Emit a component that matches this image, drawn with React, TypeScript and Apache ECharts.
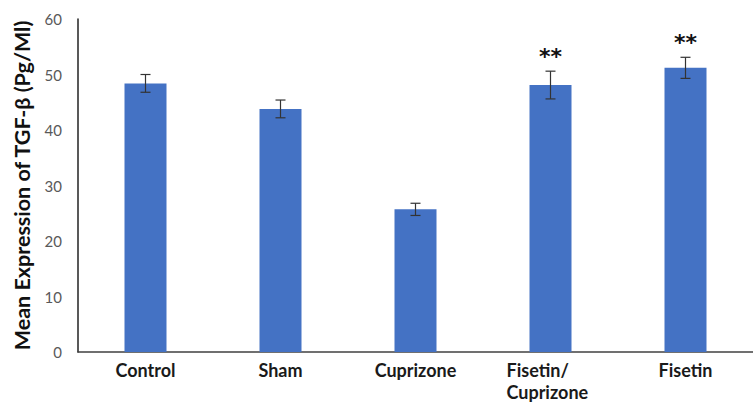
import React, { useEffect, useRef } from "react";
import * as echarts from "echarts";

const categories = ["Control", "Sham", "Cuprizone", "Fisetin/\nCuprizone", "Fisetin"];
const means = [48.4, 43.8, 25.7, 48.1, 51.2];
const errors = [1.6, 1.6, 1.1, 2.5, 1.9];
const significance = ["", "", "", "**", "**"];
const yTicks = { min: 0, max: 60, interval: 10 };

export default function App() {
  const ref = useRef<HTMLDivElement>(null);
  useEffect(() => {
    if (!ref.current) return;
    const chart = echarts.init(ref.current, undefined, { renderer: "svg" });
    const errData = means.map((m, i) => [i, m - errors[i], m + errors[i]]);
    const labelFont = { color: "#1a1a1a", fontFamily: "Lato", fontWeight: "bold", fontSize: 18, lineHeight: 22 };
    chart.setOption({
      animation: false,
      backgroundColor: "#ffffff",
      grid: { left: 78, top: 19, height: 333, width: 690 },
      xAxis: {
        type: "category",
        data: categories,
        axisLine: { lineStyle: { color: "#404040", width: 1.5 } },
        axisTick: { show: false },
        axisLabel: {
          ...labelFont,
          margin: 7,
          formatter: (v: string) =>
            v.indexOf("\n") >= 0
              ? v
                  .split("\n")
                  .map((s) => `{l|${s}}`)
                  .join("\n")
              : v,
          rich: { l: { ...labelFont, width: 88, align: "left" } },
        },
      },
      yAxis: {
        type: "value",
        min: yTicks.min,
        max: yTicks.max,
        interval: yTicks.interval,
        splitLine: { show: false },
        axisTick: { show: false },
        axisLine: { show: true, lineStyle: { color: "#222", width: 1.5 } },
        axisLabel: { color: "#595959", fontFamily: "Lato", fontSize: 15, margin: 16 },
        name: "Mean Expression of TGF-β (Pg/Ml)",
        nameLocation: "middle",
        nameGap: 45,
        nameTextStyle: { color: "#111", fontFamily: "Lato", fontWeight: "bold", fontSize: 21.5 },
      },
      series: [
        {
          type: "bar",
          data: means,
          barWidth: 42,
          itemStyle: { color: "#4472C4" },
        },
        {
          type: "custom",
          data: errData,
          z: 10,
          renderItem: (params: any, api: any) => {
            const x = api.coord([api.value(0), 0])[0];
            const lo = api.coord([api.value(0), api.value(1)])[1];
            const hi = api.coord([api.value(0), api.value(2)])[1];
            const sig = significance[params.dataIndex];
            const style = { stroke: "#333", lineWidth: 1.2 };
            const children: any[] = [
              { type: "line", shape: { x1: x, y1: lo, x2: x, y2: hi }, style },
              { type: "line", shape: { x1: x - 5, y1: hi, x2: x + 5, y2: hi }, style },
              { type: "line", shape: { x1: x - 5, y1: lo, x2: x + 5, y2: lo }, style },
            ];
            if (sig) {
              children.push({
                type: "text",
                x,
                y: hi - 4,
                style: {
                  text: sig,
                  fill: "#111",
                  fontSize: 22,
                  fontWeight: "bold",
                  fontFamily: "DejaVu Sans",
                  align: "center",
                  verticalAlign: "bottom",
                },
              });
            }
            return { type: "group", children };
          },
        },
      ],
    });
    return () => chart.dispose();
  }, []);
  return (
    <div
      ref={ref}
      style={{ position: "fixed", left: 0, top: 0, width: 753, height: 403, background: "#fff" }}
    />
  );
}
